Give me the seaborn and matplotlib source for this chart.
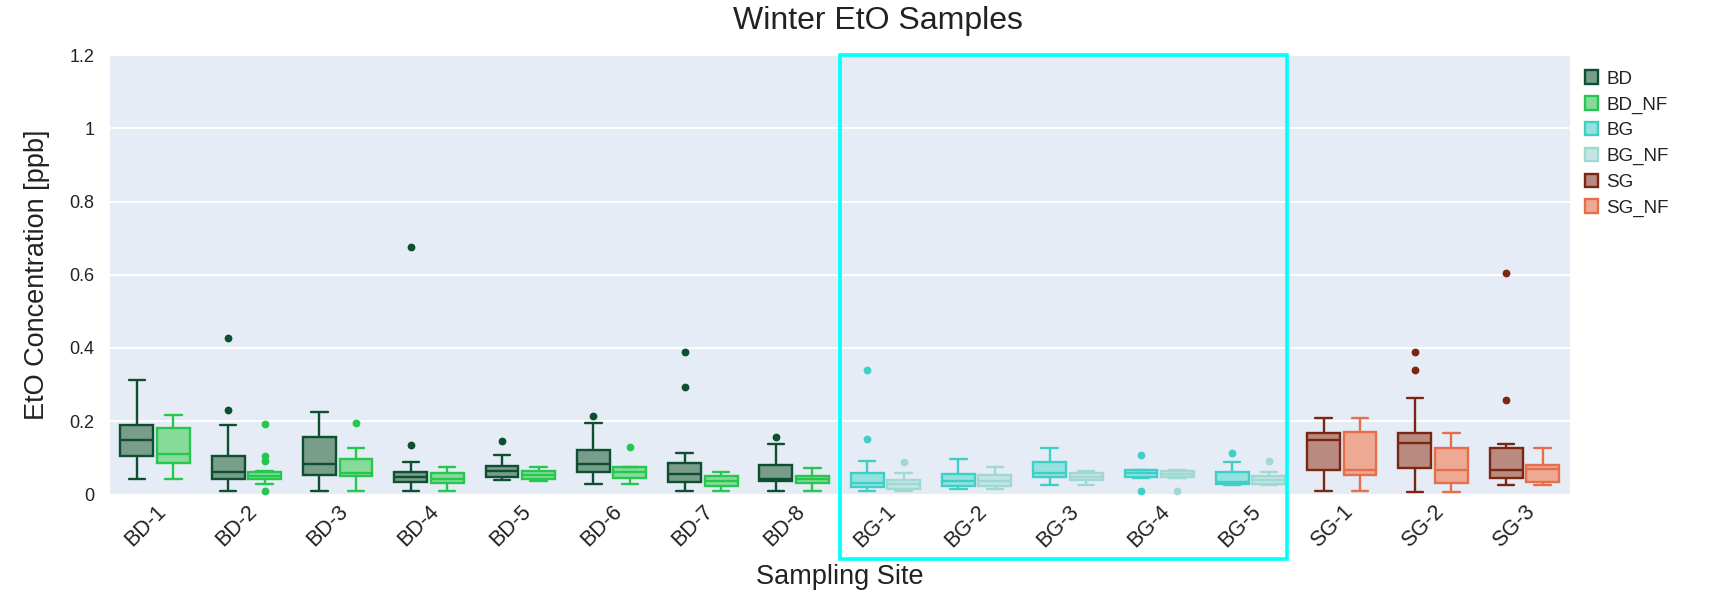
import numpy as np
import pandas as pd
import seaborn as sns
import matplotlib
matplotlib.use("Agg")
import matplotlib.pyplot as plt
from matplotlib.patches import Patch, Rectangle

# ---------------- data (box statistics) ----------------
BD_sites = ["BD-1", "BD-2", "BD-3", "BD-4", "BD-5", "BD-6", "BD-7", "BD-8"]
BG_sites = ["BG-1", "BG-2", "BG-3", "BG-4", "BG-5"]
SG_sites = ["SG-1", "SG-2", "SG-3"]

BD_lo = [0.041, 0.009, 0.009, 0.009, 0.040, 0.029, 0.009, 0.009]
BD_q1 = [0.105, 0.043, 0.053, 0.034, 0.047, 0.0625, 0.034, 0.037]
BD_med = [0.149, 0.061, 0.082, 0.049, 0.063, 0.082, 0.057, 0.041]
BD_q3 = [0.189, 0.105, 0.156, 0.0625, 0.079, 0.122, 0.086, 0.081]
BD_hi = [0.312, 0.191, 0.225, 0.089, 0.107, 0.195, 0.114, 0.139]
BD_out = [[], [0.426, 0.230], [], [0.675, 0.135], [0.146], [0.214], [0.389, 0.294], [0.156]]

BDNF_lo = [0.041, 0.029, 0.009, 0.009, 0.038, 0.029, 0.009, 0.009]
BDNF_q1 = [0.086, 0.042, 0.050, 0.031, 0.042, 0.044, 0.024, 0.031]
BDNF_med = [0.111, 0.051, 0.058, 0.043, 0.054, 0.062, 0.037, 0.041]
BDNF_q3 = [0.181, 0.061, 0.097, 0.058, 0.064, 0.074, 0.051, 0.050]
BDNF_hi = [0.216, 0.065, 0.128, 0.074, 0.076, 0.074, 0.061, 0.071]
BDNF_out = [[], [0.193, 0.105, 0.091, 0.009], [0.196], [], [], [0.130], [], []]

BG_lo = [0.009, 0.015, 0.027, 0.045, 0.025]
BG_q1 = [0.021, 0.023, 0.047, 0.047, 0.030]
BG_med = [0.032, 0.037, 0.060, 0.058, 0.035]
BG_q3 = [0.058, 0.055, 0.090, 0.068, 0.062]
BG_hi = [0.092, 0.096, 0.128, 0.068, 0.090]
BG_out = [[0.340, 0.151], [], [], [0.108, 0.009], [0.113]]

BGNF_lo = [0.009, 0.015, 0.027, 0.045, 0.025]
BGNF_q1 = [0.016, 0.023, 0.040, 0.047, 0.029]
BGNF_med = [0.028, 0.037, 0.049, 0.057, 0.040]
BGNF_q3 = [0.039, 0.053, 0.060, 0.064, 0.050]
BGNF_hi = [0.059, 0.074, 0.065, 0.068, 0.0625]
BGNF_out = [[0.090], [], [], [0.009], [0.091]]

SG_lo = [0.009, 0.007, 0.027]
SG_q1 = [0.067, 0.072, 0.046]
SG_med = [0.148, 0.141, 0.067]
SG_q3 = [0.167, 0.168, 0.128]
SG_hi = [0.209, 0.264, 0.138]
SG_out = [[], [0.388, 0.341], [0.605, 0.258]]

SGNF_lo = [0.009, 0.007, 0.027]
SGNF_q1 = [0.054, 0.031, 0.035]
SGNF_med = [0.068, 0.066, 0.070]
SGNF_q3 = [0.171, 0.128, 0.081]
SGNF_hi = [0.209, 0.168, 0.127]
SGNF_out = [[], [], []]

series_names = ["BD", "BD_NF", "BG", "BG_NF", "SG", "SG_NF"]
line_colors = ["#0d4f30", "#27c64f", "#3fcfc6", "#9fd9d1", "#7a2612", "#e66f4b"]
fill_colors = ["#789d8b", "#86db9b", "#94e2df", "#c3e5e5", "#b98a80", "#eda993"]

all_sites = BD_sites + BG_sites + SG_sites


def expand(lo, q1, med, q3, hi, outs):
    """Sample values whose box statistics equal the given ones."""
    low = sorted(o for o in outs if o < lo)
    high = sorted(o for o in outs if o > hi)
    m = max(len(low), len(high)) + 1
    n = 4 * m + 1
    vals = [None] * n
    vals[:len(low)] = low
    vals[len(low)] = lo
    for i in range(len(low) + 1, m + 1):
        vals[i] = q1
    for i in range(m + 1, 2 * m + 1):
        vals[i] = med
    for i in range(2 * m + 1, n - 1 - len(high)):
        vals[i] = q3
    vals[n - 1 - len(high)] = hi
    if high:
        vals[n - len(high):] = high
    return vals


def build(name, sites, lo, q1, med, q3, hi, outs):
    rows = []
    for k, s in enumerate(sites):
        for v in expand(lo[k], q1[k], med[k], q3[k], hi[k], outs[k]):
            rows.append({"site": s, "series": name, "value": v})
    return pd.DataFrame(rows)


frames = {
    "BD": build("BD", BD_sites, BD_lo, BD_q1, BD_med, BD_q3, BD_hi, BD_out),
    "BD_NF": build("BD_NF", BD_sites, BDNF_lo, BDNF_q1, BDNF_med, BDNF_q3, BDNF_hi, BDNF_out),
    "BG": build("BG", BG_sites, BG_lo, BG_q1, BG_med, BG_q3, BG_hi, BG_out),
    "BG_NF": build("BG_NF", BG_sites, BGNF_lo, BGNF_q1, BGNF_med, BGNF_q3, BGNF_hi, BGNF_out),
    "SG": build("SG", SG_sites, SG_lo, SG_q1, SG_med, SG_q3, SG_hi, SG_out),
    "SG_NF": build("SG_NF", SG_sites, SGNF_lo, SGNF_q1, SGNF_med, SGNF_q3, SGNF_hi, SGNF_out),
}

# ---------------- style ----------------
sns.set_style("white")
plt.rcParams["font.family"] = ["Liberation Sans", "DejaVu Sans"]
TEXT = "#222222"
BG = "#E5ECF6"

fig = plt.figure(figsize=(17.29, 5.98), dpi=100)
W, H = 1729, 598
left, right, top, bottom = 109.5, 1570, 55, 494.5
ax = fig.add_axes([left / W, 1 - bottom / H, (right - left) / W, (bottom - top) / H])
ax.set_facecolor(BG)

lw = 1.7
for i, name in enumerate(series_names):
    fam = name.split("_")[0]
    pal = {fam: fill_colors[series_names.index(fam)],
           fam + "_NF": fill_colors[series_names.index(fam + "_NF")]}
    sns.boxplot(
        data=frames[name], x="site", y="value", hue="series",
        order=all_sites, hue_order=[fam, fam + "_NF"], palette=pal,
        saturation=1, width=0.8, gap=0.1, dodge=True,
        linecolor=line_colors[i], linewidth=lw,
        flierprops=dict(marker="o", markerfacecolor=line_colors[i],
                        markeredgecolor=line_colors[i], markersize=4.6),
        legend=False, ax=ax,
    )

ax.set_xlim(-0.5, len(all_sites) - 0.5)
ax.set_ylim(0, 1.2)
ax.set_yticks([0, 0.2, 0.4, 0.6, 0.8, 1.0, 1.2])
ax.set_yticklabels(["0", "0.2", "0.4", "0.6", "0.8", "1", "1.2"])
ax.yaxis.grid(True, color="white", linewidth=1.4)
ax.xaxis.grid(False)
ax.set_axisbelow(True)
for sp in ax.spines.values():
    sp.set_visible(False)
ax.tick_params(axis="both", length=0, labelcolor=TEXT)
ax.tick_params(axis="y", pad=11, labelsize=13)
ax.tick_params(axis="x", pad=5, labelsize=15.5)
ax.set_xticks(range(len(all_sites)))
ax.set_xticklabels(all_sites, rotation=45, ha="right", va="top", rotation_mode="anchor")

ax.set_xlabel("Sampling Site", fontsize=19.5, color=TEXT, va="center")
ax.xaxis.set_label_coords(0.5, (bottom - 577) / (bottom - top))
ax.set_ylabel("EtO Concentration [ppb]", fontsize=19.5, color=TEXT, va="center")
ax.yaxis.set_label_coords((37 - left) / (right - left), 0.5)
ax.set_title("Winter EtO Samples", fontsize=23, color=TEXT, pad=0,
             x=(878 - left) / (right - left), y=(bottom - 21) / (bottom - top), va="center")

# highlight frame around the BG sites
hl = Rectangle((7.5, -0.176), 4.9, 1.375, fill=False, edgecolor="#00FFFF",
               linewidth=2.6, clip_on=False, zorder=10)
ax.add_patch(hl)

handles = [Patch(facecolor=f, edgecolor=c, linewidth=1.7) for f, c in zip(fill_colors, line_colors)]
fig.legend(handles, series_names, loc="upper left", bbox_to_anchor=(1577 / W, 1 - 63 / H),
           frameon=False, fontsize=13.5, handlelength=0.72, handleheight=0.72,
           handletextpad=0.45, labelspacing=0.45, labelcolor=TEXT, borderaxespad=0)

fig.savefig("out.png", dpi=100)
